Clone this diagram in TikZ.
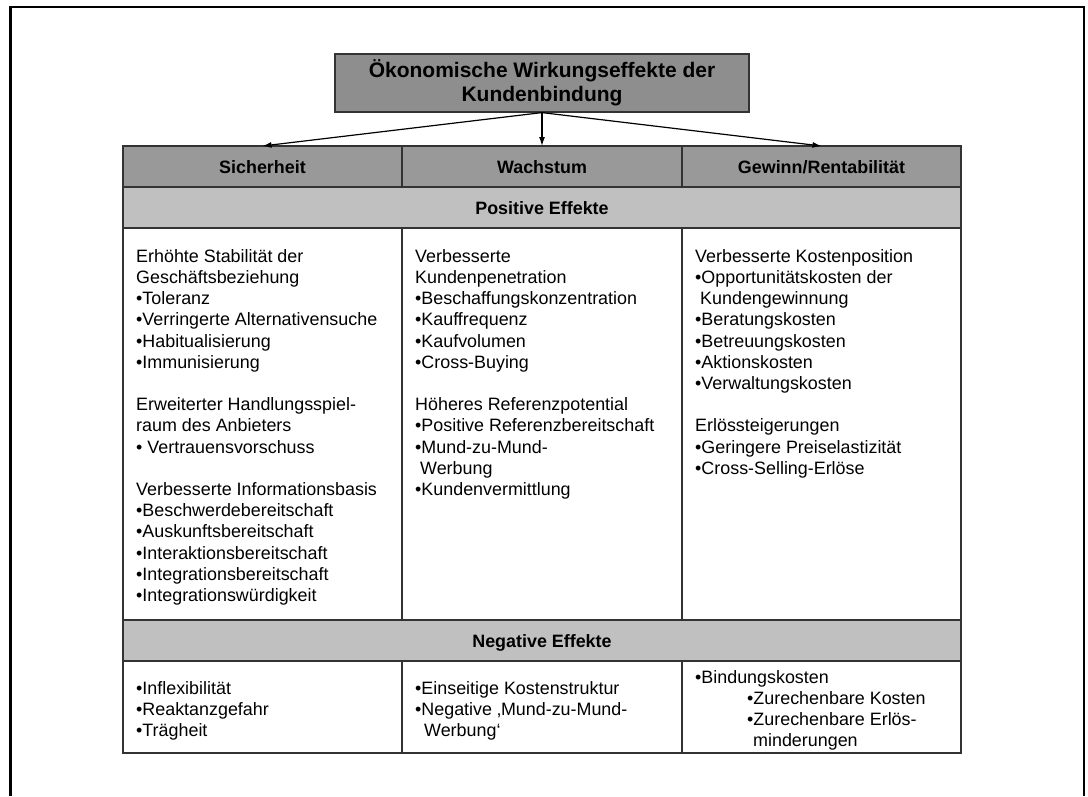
\documentclass[tikz,border=0pt]{standalone}
\usepackage{fontspec}
\setmainfont{Liberation Sans}
\usetikzlibrary{positioning,arrows.meta}

\definecolor{titelgrau}{HTML}{8E8E8E}
\definecolor{kopfgrau}{HTML}{999999}
\definecolor{zeilengrau}{HTML}{C0C0C0}
\newcommand{\zellfont}{\fontsize{17.9}{21.2}\selectfont}

\tikzset{
  zelle/.style={draw=black!80, line width=1.2pt, anchor=north west, inner sep=0pt, outer sep=0pt},
  kopf/.style={zelle, fill=kopfgrau, minimum height=41pt, font=\zellfont\bfseries, text height=14pt, text depth=0pt},
  balken/.style={zelle, fill=zeilengrau, minimum width=838pt, minimum height=41pt, font=\zellfont\bfseries, text height=14pt, text depth=0pt},
  inhalt/.style={anchor=north west, inner sep=0pt, align=left, font=\zellfont},
  titel/.style={draw=black!80, fill=titelgrau, line width=1.2pt, minimum width=414pt, minimum height=58pt, align=center, font=\fontsize{21}{24}\selectfont\bfseries},
  pfeil/.style={line width=1.2pt, -{Latex[length=9pt,width=6pt]}}
}

\begin{document}
\begin{tikzpicture}[x=1pt, y=-1pt]
      %\draw[help lines, step=50] (0,0) grid (1088,796);
      \useasboundingbox (0,0) rectangle (1088,796);

      \draw[line width=2.8pt] (10.5,796) |- (1084,7) -- (1084,796);

      \node[titel] (titel) at (542,83) {Ökonomische Wirkungseffekte der\\Kundenbindung};

      \node[kopf, minimum width=279pt] (sicher) at (123,146) {Sicherheit};
      \node[kopf, minimum width=280pt] (wachs)  at (402,146) {Wachstum};
      \node[kopf, minimum width=279pt] (gewinn) at (682,146) {Gewinn/Rentabilität};

      \draw[pfeil] (titel.south) -- (sicher.north);
      \draw[pfeil] (titel.south) -- (wachs.north);
      \draw[pfeil] (titel.south) -- (gewinn.north);

      \node[balken] (posrow) at (123,187) {Positive Effekte};

      \node[zelle, minimum width=279pt, minimum height=392pt] (possich)   at (123,228) {};
      \node[zelle, minimum width=280pt, minimum height=392pt] (poswachs)  at (402,228) {};
      \node[zelle, minimum width=279pt, minimum height=392pt] (posgewinn) at (682,228) {};

      \node[balken] (negrow) at (123,620) {Negative Effekte};

      \node[zelle, minimum width=279pt, minimum height=92pt] (negsich)   at (123,661) {};
      \node[zelle, minimum width=280pt, minimum height=92pt] (negwachs)  at (402,661) {};
      \node[zelle, minimum width=279pt, minimum height=92pt] (neggewinn) at (682,661) {};

      % positive Effekte
      \node[inhalt] (tpossich) at (136,247.2) {\strut Erhöhte Stabilität der\\Geschäftsbeziehung\\•Toleranz\\•Verringerte Alternativensuche\\•Habitualisierung\\•Immunisierung\\[21.2pt]
        Erweiterter Handlungsspiel-\\raum des Anbieters\\• Vertrauensvorschuss\\[21.2pt]
        Verbesserte Informationsbasis\\•Beschwerdebereitschaft\\•Auskunftsbereitschaft\\•Interaktionsbereitschaft\\•Integrationsbereitschaft\\•Integrationswürdigkeit};
      \node[inhalt] (tposwachs) at (415,247.2) {\strut Verbesserte\\Kundenpenetration\\•Beschaffungskonzentration\\•Kauffrequenz\\•Kaufvolumen\\•Cross-Buying\\[21.2pt]
        Höheres Referenzpotential\\•Positive Referenzbereitschaft\\•Mund-zu-Mund-\\\hspace*{5pt}Werbung\\•Kundenvermittlung};
      \node[inhalt] (tposgewinn) at (695,247.2) {\strut Verbesserte Kostenposition\\•Opportunitätskosten der\\\hspace*{5pt}Kundengewinnung\\•Beratungskosten\\•Betreuungskosten\\•Aktionskosten\\•Verwaltungskosten\\[21.2pt]
        Erlössteigerungen\\•Geringere Preiselastizität\\•Cross-Selling-Erlöse};

      % negative Effekte
      \node[inhalt] (tnegsich)   at (136,679.2) {\strut•Inflexibilität\\•Reaktanzgefahr\\•Trägheit};
      \node[inhalt] (tnegwachs)  at (415,679.2) {\strut•Einseitige Kostenstruktur\\•Negative ‚Mund-zu-Mund-\\\hspace*{9pt}Werbung‘};
      \node[inhalt] (tneggewinn) at (695,668.2) {\strut•Bindungskosten\\\hspace*{52pt}•Zurechenbare Kosten\\\hspace*{52pt}•Zurechenbare Erlös-\\\hspace*{58pt}minderungen};
\end{tikzpicture}
\end{document}
